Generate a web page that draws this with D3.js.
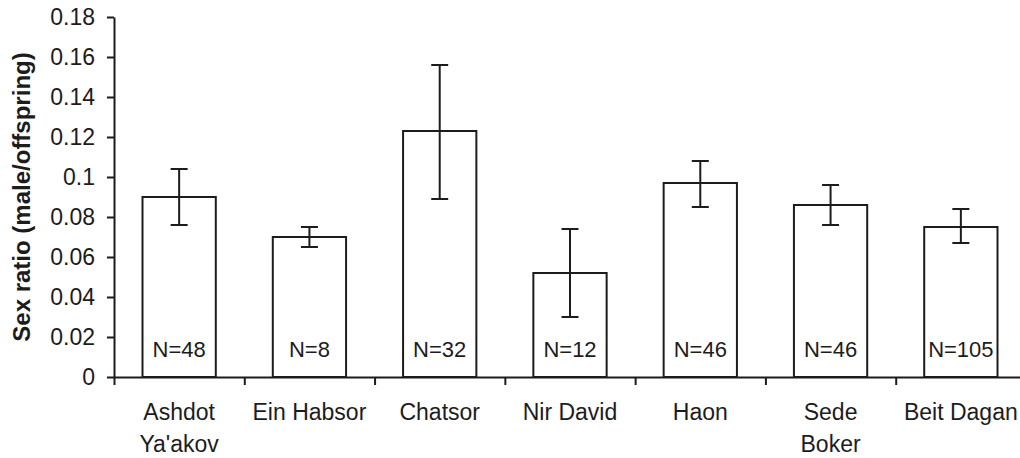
<!DOCTYPE html>
<html>
<head>
<meta charset="utf-8">
<script src="https://cdn.jsdelivr.net/npm/d3@7"></script>
<style>
  html, body { margin: 0; padding: 0; background: #fff; }
  svg { display: block; font-family: "Liberation Sans", Arial, sans-serif; }
</style>
</head>
<body>
<svg id="chart" width="1020" height="458"></svg>
<script>
// data
const categories = ["Ashdot\nYa'akov", "Ein Habsor", "Chatsor", "Nir David", "Haon", "Sede\nBoker", "Beit Dagan"];
const ratio     = [0.090, 0.070, 0.123, 0.052, 0.097, 0.086, 0.075];
const errHigh   = [0.104, 0.075, 0.156, 0.074, 0.108, 0.096, 0.084];
const errLow    = [0.076, 0.065, 0.089, 0.030, 0.085, 0.076, 0.067];
const nLabels   = ["N=48", "N=8", "N=32", "N=12", "N=46", "N=46", "N=105"];
const yTicks    = [0, 0.02, 0.04, 0.06, 0.08, 0.1, 0.12, 0.14, 0.16, 0.18];

const ink = "#1c1c1c";
const plotLeft = 114, plotRight = 1026, plotTop = 17, plotBottom = 377;

const svg = d3.select("#chart");

const x = d3.scaleBand()
  .domain(categories)
  .range([plotLeft, plotRight])
  .padding(0);

const y = d3.scaleLinear()
  .domain([0, 0.18])
  .range([plotBottom, plotTop]);

const barW = x.bandwidth() * 0.5625;

// bars
svg.selectAll("rect.bar")
  .data(categories)
  .enter()
  .append("rect")
  .attr("class", "bar")
  .attr("x", (d) => x(d) + (x.bandwidth() - barW) / 2)
  .attr("y", (d, i) => y(ratio[i]))
  .attr("width", barW)
  .attr("height", (d, i) => y(0) - y(ratio[i]))
  .attr("fill", "#fff")
  .attr("stroke", ink)
  .attr("stroke-width", 2);

// error bars
const eb = svg.selectAll("g.err")
  .data(categories)
  .enter()
  .append("g")
  .attr("class", "err")
  .attr("stroke", ink)
  .attr("stroke-width", 2);

eb.append("line")
  .attr("x1", (d) => x(d) + x.bandwidth() / 2)
  .attr("x2", (d) => x(d) + x.bandwidth() / 2)
  .attr("y1", (d, i) => y(errLow[i]))
  .attr("y2", (d, i) => y(errHigh[i]));

[errLow, errHigh].forEach((arr) => {
  eb.append("line")
    .attr("x1", (d) => x(d) + x.bandwidth() / 2 - 8.5)
    .attr("x2", (d) => x(d) + x.bandwidth() / 2 + 8.5)
    .attr("y1", (d, i) => y(arr[i]))
    .attr("y2", (d, i) => y(arr[i]));
});

// N labels inside bars
svg.selectAll("text.n")
  .data(categories)
  .enter()
  .append("text")
  .attr("class", "n")
  .attr("x", (d) => x(d) + x.bandwidth() / 2)
  .attr("y", 357)
  .attr("text-anchor", "middle")
  .attr("font-size", 22)
  .attr("fill", ink)
  .text((d, i) => nLabels[i]);

// y axis
const yAxis = svg.append("g")
  .attr("transform", "translate(" + plotLeft + ",0)")
  .call(d3.axisLeft(y).tickValues(yTicks).tickSize(7).tickSizeOuter(0).tickPadding(12)
    .tickFormat((d) => String(+d.toFixed(2))));
yAxis.select(".domain").attr("stroke", ink).attr("stroke-width", 2);
yAxis.selectAll(".tick line").attr("stroke", ink).attr("stroke-width", 2);
yAxis.selectAll(".tick text")
  .attr("font-size", 23)
  .attr("font-family", "'Liberation Sans', Arial, sans-serif")
  .attr("fill", ink);

// x axis with ticks between categories
const xb = d3.scaleLinear().domain([0, categories.length]).range([plotLeft, plotRight]);
const xAxis = svg.append("g")
  .attr("transform", "translate(0," + plotBottom + ")")
  .call(d3.axisBottom(xb).tickValues(d3.range(categories.length + 1)).tickSize(8).tickSizeOuter(0).tickFormat(""));
xAxis.select(".domain").attr("stroke", ink).attr("stroke-width", 2);
xAxis.selectAll(".tick line").attr("stroke", ink).attr("stroke-width", 2);

// category labels
svg.selectAll("text.cat")
  .data(categories)
  .enter()
  .append("text")
  .attr("class", "cat")
  .attr("x", (d) => x(d) + x.bandwidth() / 2)
  .attr("y", 420)
  .attr("text-anchor", "middle")
  .attr("font-size", 23)
  .attr("fill", ink)
  .each(function (d) {
    const lines = d.split("\n");
    d3.select(this).selectAll("tspan")
      .data(lines)
      .enter()
      .append("tspan")
      .attr("x", x(d) + x.bandwidth() / 2)
      .attr("dy", (l, j) => j === 0 ? 0 : 32)
      .text((l) => l);
  });

// y axis title
svg.append("text")
  .attr("transform", "translate(30," + (plotTop + plotBottom) / 2 + ") rotate(-90)")
  .attr("text-anchor", "middle")
  .attr("font-size", 24)
  .attr("font-weight", "bold")
  .attr("fill", ink)
  .text("Sex ratio (male/offspring)");
</script>
</body>
</html>
